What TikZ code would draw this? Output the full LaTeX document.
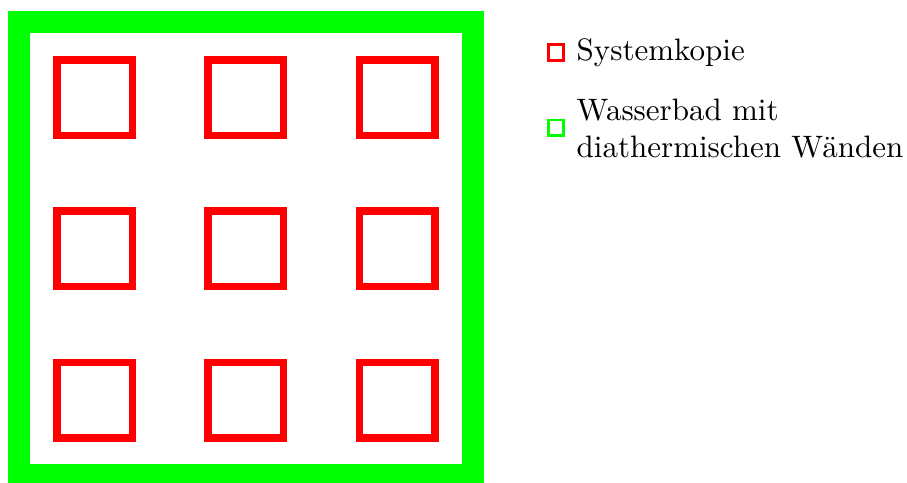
\documentclass[tikz,border=0pt]{standalone}
\usepackage{fontspec}
\newfontfamily\legendfont{lmroman10-regular}[Extension=.otf]
\begin{document}
\begin{tikzpicture}[x=1pt,y=-1pt,
  bath/.style={draw={rgb,255:red,0;green,255;blue,0},line width=22pt},
  copybox/.style={draw={rgb,255:red,255;green,0;blue,0},line width=7.5pt},
  keyred/.style={draw={rgb,255:red,255;green,0;blue,0},line width=2.4pt},
  keygreen/.style={draw={rgb,255:red,0;green,255;blue,0},line width=2.4pt},
  legend/.style={anchor=base west,inner sep=0pt,align=left,
    font=\legendfont\fontsize{31}{37}\selectfont}]
\useasboundingbox (0,0) rectangle (907,482);
% water bath with diathermic walls
\draw[bath] (19,22) rectangle (472.7,475.3);
% 3x3 grid of system copies
\foreach \i in {0,1,2}{
  \foreach \j in {0,1,2}{
    \draw[copybox] ({56.75+151.3*\i},{59.75+151.3*\j}) rectangle ++(75.5,75.5);
  }
}
% legend (base anchor sits on the last line)
\draw[keyred] (548.5,44.5) rectangle (563.5,60.5);
\node[legend] (k1) at (576.5,60) {Systemkopie};
\draw[keygreen] (548.5,120.2) rectangle (563.5,135.5);
\node[legend] (k2) at (576.5,157) {Wasserbad mit\\diathermischen Wänden};
\end{tikzpicture}
\end{document}
